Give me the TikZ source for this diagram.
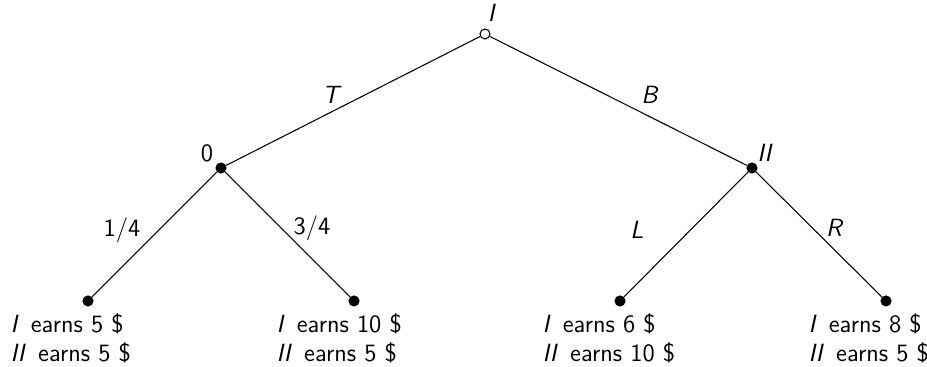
\documentclass[tikz,border=0pt]{standalone}
\usepackage{amsmath, amssymb}
\usepackage{tikz}
\usetikzlibrary{calc}
\tikzstyle{every picture}=[->,>=latex]
\tikzstyle{chance}=[circle,draw,fill=black,inner sep=0pt,minimum size=0.165cm]
\tikzstyle{start}=[circle,draw,fill=white,inner sep=0pt,minimum size=0.165cm]
\tikzstyle{payoff}=[anchor=base west,inner sep=0pt]

\begin{document}
\begin{tikzpicture}[x=0.0165cm,y=-0.0165cm,line width=0.5pt,
    font=\sffamily\fontsize{11.7}{14}\selectfont]
    \useasboundingbox (0,0) rectangle (927,367);

    % Root
    \node[start] (r) at (485,34) {};
    \node (rl) at (492,13) {\textit{I}};

    % Second level
    \node[chance] (c0) at (221,168) {};
    \node (c0l) at (207,153) {0};
    \node[chance] (c2) at (752,168) {};
    \node (c2l) at (765,153) {\textit{II}};
    \draw[-] (r) -- (c0);
    \draw[-] (r) -- (c2);
    \node (t) at (332,95) {\textit{T}};
    \node (b) at (650,95) {\textit{B}};

    % Leaves
    \node[chance] (l1) at (88,301) {};
    \node[chance] (l2) at (354,301) {};
    \node[chance] (l3) at (620,301) {};
    \node[chance] (l4) at (886,301) {};
    \draw[-] (c0) -- (l1);
    \draw[-] (c0) -- (l2);
    \draw[-] (c2) -- (l3);
    \draw[-] (c2) -- (l4);
    \node (p1) at (122,230) {1/4};
    \node (p2) at (312,228) {3/4};
    \node (ml) at (637,230) {\textit{L}};
    \node (mr) at (835,228) {\textit{R}};

    % Payoffs
    \node[payoff] (e1a) at ($(l1)+(-78,32)$) {\textit{I}\, earns 5 \$};
    \node[payoff] (e1b) at ($(l1)+(-78,61)$) {\textit{II}\, earns 5 \$};
    \node[payoff] (e2a) at ($(l2)+(-78,32)$) {\textit{I}\, earns 10 \$};
    \node[payoff] (e2b) at ($(l2)+(-78,61)$) {\textit{II}\, earns 5 \$};
    \node[payoff] (e3a) at ($(l3)+(-78,32)$) {\textit{I}\, earns 6 \$};
    \node[payoff] (e3b) at ($(l3)+(-78,61)$) {\textit{II}\, earns 10 \$};
    \node[payoff] (e4a) at ($(l4)+(-78,32)$) {\textit{I}\, earns 8 \$};
    \node[payoff] (e4b) at ($(l4)+(-78,61)$) {\textit{II}\, earns 5 \$};
\end{tikzpicture}
\end{document}
